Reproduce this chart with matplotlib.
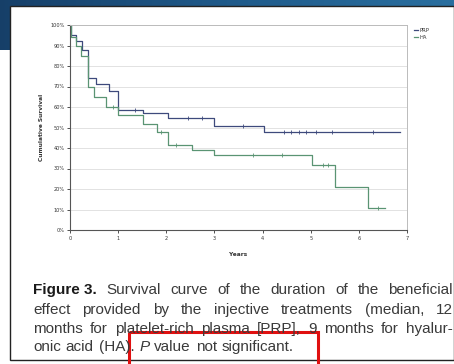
import matplotlib
matplotlib.use("Agg")
import matplotlib.pyplot as plt
import numpy as np
from matplotlib.patches import Rectangle
from matplotlib.colors import LinearSegmentedColormap

# ---------------- data ----------------
prp_times = [0, 0.02, 0.12, 0.25, 0.37, 0.55, 0.80, 1.00, 1.52, 2.04, 3.00, 4.02, 6.86]
prp_surv  = [100, 95, 92, 88, 74, 71, 68, 58.5, 57, 54.6, 50.5, 47.8, 47.8]
prp_cens_t = [1.35, 2.45, 2.75, 3.6, 4.45, 4.6, 4.75, 4.9, 5.1, 5.45, 6.3]

ha_times = [0, 0.03, 0.12, 0.22, 0.37, 0.50, 0.75, 1.00, 1.52, 1.80, 2.04, 2.53, 3.00, 5.02, 5.50, 6.20, 6.55]
ha_surv  = [100, 94, 90, 85, 70, 65, 60, 56, 51.5, 48, 41.5, 39, 36.6, 31.7, 21, 10.5, 10.5]
ha_cens_t = [0.9, 1.9, 2.2, 3.8, 4.4, 5.25, 5.35, 6.4]

series_names = ["PRP", "HA"]
y_ticks = list(range(0, 101, 10))
y_tick_labels = [f"{v}%" for v in y_ticks]
x_ticks = list(range(0, 8))

caption_lines = [
    [("Figure 3.", "bold", "normal")] + [(w, "normal", "normal") for w in
     "Survival curve of the duration of the beneficial".split()],
    [(w, "normal", "normal") for w in "effect provided by the injective treatments (median, 12".split()],
    [(w, "normal", "normal") for w in "months for platelet-rich plasma [PRP], 9 months for hyalur-".split()],
    [(w, "normal", "normal") for w in "onic acid (HA).".split()] + [("P", "normal", "italic")]
    + [(w, "normal", "normal") for w in "value not significant.".split()],
]

# ---------------- figure ----------------
W, H = 454, 364
fig = plt.figure(figsize=(W / 100, H / 100), dpi=100)
fig.patch.set_facecolor("white")

bg = fig.add_axes([0, 0, 1, 1], zorder=-5)
grad = np.linspace(0, 1, 256)[None, :]
cmap = LinearSegmentedColormap.from_list("ban", ["#163f68", "#1f5a8a", "#2a6f9f"])
bg.imshow(grad, extent=[0, W, 6, 0], aspect="auto", cmap=cmap, zorder=0)
bg.imshow(grad[:, :10], extent=[0, 10, 50, 0], aspect="auto", cmap=cmap, vmin=0, vmax=1, zorder=0)
bg.add_patch(Rectangle((10, 6), W - 10, 354, facecolor="white", edgecolor="#222222", lw=1.0, zorder=1))
bg.set_xlim(0, W)
bg.set_ylim(H, 0)
bg.axis("off")

x0, x1 = 70, 407
y0, y1 = 25, 230
ax = fig.add_axes([x0 / W, 1 - y1 / H, (x1 - x0) / W, (y1 - y0) / H])

prp_col = "#3e4a7c"
ha_col = "#5a9473"

def surv_at(times, surv, t):
    idx = np.searchsorted(times, t, side="right") - 1
    return surv[idx]

ax.step(prp_times, prp_surv, where="post", color=prp_col, lw=0.9, label=series_names[0])
ax.step(ha_times, ha_surv, where="post", color=ha_col, lw=0.9, label=series_names[1])
ax.plot(prp_cens_t, [surv_at(prp_times, prp_surv, t) for t in prp_cens_t], ls="none",
        marker="|", ms=2.5, mew=0.6, color=prp_col)
ax.plot(ha_cens_t, [surv_at(ha_times, ha_surv, t) for t in ha_cens_t], ls="none",
        marker="|", ms=2.5, mew=0.6, color=ha_col)

ax.set_xlim(0, 7)
ax.set_ylim(0, 100)
ax.set_yticks(y_ticks)
ax.set_yticklabels(y_tick_labels)
ax.set_xticks(x_ticks)
ax.tick_params(axis="both", labelsize=3.6, length=2.5, width=0.6, pad=1.5, colors="#333333")
ax.yaxis.grid(True, color="#dddddd", lw=0.6)
ax.set_axisbelow(True)
for s in ["left", "bottom"]:
    ax.spines[s].set_color("#555555")
    ax.spines[s].set_linewidth(0.8)
for s in ["top", "right"]:
    ax.spines[s].set_color("#bbbbbb")
    ax.spines[s].set_linewidth(0.7)

ax.set_ylabel("Cumulative Survival", fontsize=4.2, color="#333333", fontweight="bold")
ax.set_xlabel("Years", fontsize=4.2, color="#333333", fontweight="bold")
ax.yaxis.set_label_coords(-0.077, 0.5)
ax.xaxis.set_label_coords(0.5, -0.105)

leg = ax.legend(loc="upper left", bbox_to_anchor=(1.01, 1.0), frameon=False, fontsize=3.8,
                handlelength=0.8, handletextpad=0.3, labelspacing=0.3, borderaxespad=0.2)
for t in leg.get_texts():
    t.set_color("#333333")

# ---------------- caption (justified) ----------------
fig.canvas.draw()
renderer = fig.canvas.get_renderer()
left_px, right_px = 33, 453
line_y = [290, 310, 329, 347]
fs = 11.0
for li, words in enumerate(caption_lines):
    texts = []
    for w, weight, style in words:
        t = fig.text(0, 0, w, fontsize=fs, fontweight=weight, fontstyle=style,
                     family="Liberation Sans", color="#1a1a1a" if weight == "bold" else "#3a3a3a",
                     va="center", ha="left")
        texts.append(t)
    widths = [t.get_window_extent(renderer).width for t in texts]
    last = li == len(caption_lines) - 1
    if last or len(texts) == 1:
        gap = fs * 100 / 72 * 0.32
    else:
        gap = (right_px - left_px - sum(widths)) / (len(texts) - 1)
    x = left_px
    for t, wdt in zip(texts, widths):
        t.set_position((x / W, 1 - line_y[li] / H))
        x += wdt + gap

bg.add_patch(Rectangle((129, 332), 189, 40, facecolor="none", edgecolor="#e01010", lw=2.2, zorder=10,
                       clip_on=False))

fig.savefig("out.png", dpi=100)
